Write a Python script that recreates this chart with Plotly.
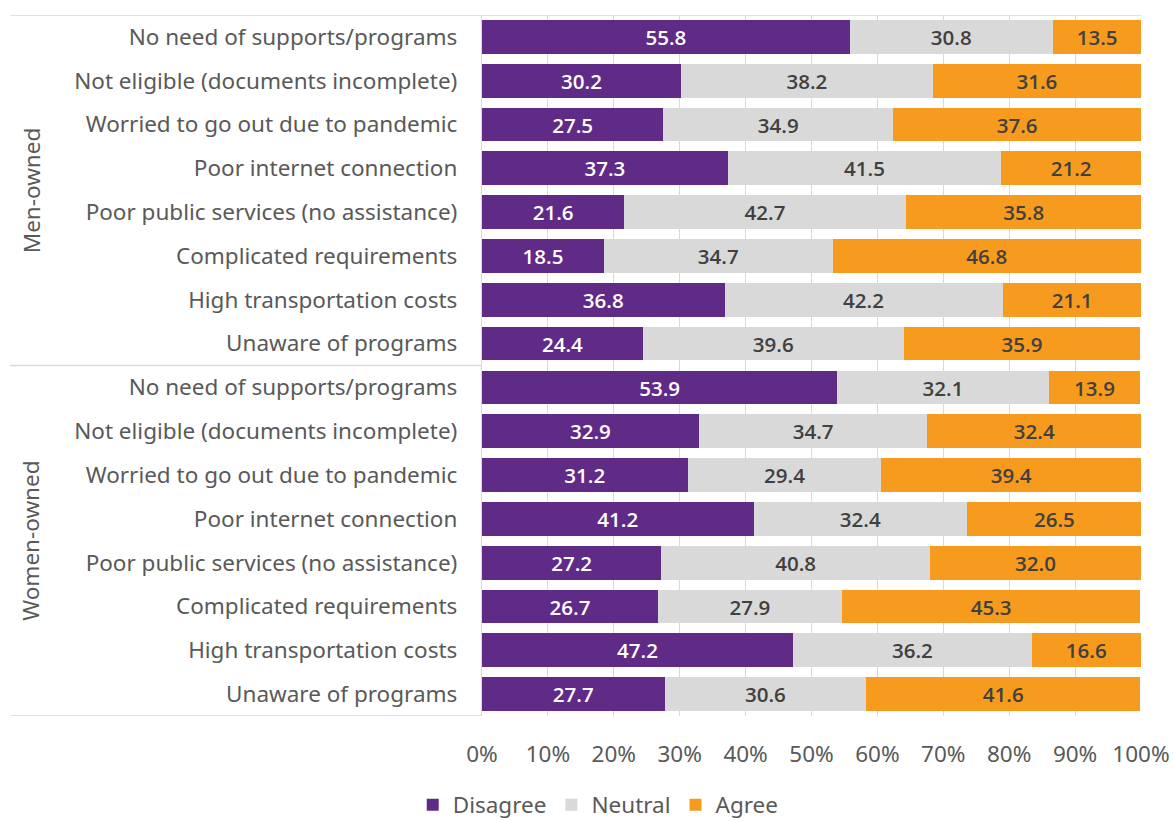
import plotly.graph_objects as go

groups = ["Men-owned", "Women-owned"]
reasons = [
    "No need of supports/programs",
    "Not eligible (documents incomplete)",
    "Worried to go out due to pandemic",
    "Poor internet connection",
    "Poor public services (no assistance)",
    "Complicated requirements",
    "High transportation costs",
    "Unaware of programs",
]
disagree_men = [55.8, 30.2, 27.5, 37.3, 21.6, 18.5, 36.8, 24.4]
neutral_men = [30.8, 38.2, 34.9, 41.5, 42.7, 34.7, 42.2, 39.6]
agree_men = [13.5, 31.6, 37.6, 21.2, 35.8, 46.8, 21.1, 35.9]
disagree_women = [53.9, 32.9, 31.2, 41.2, 27.2, 26.7, 47.2, 27.7]
neutral_women = [32.1, 34.7, 29.4, 32.4, 40.8, 27.9, 36.2, 30.6]
agree_women = [13.9, 32.4, 39.4, 26.5, 32.0, 45.3, 16.6, 41.6]
x_ticks = list(range(0, 101, 10))
x_tick_labels = [f"{v}%" for v in x_ticks]

labels = reasons + reasons
ypos = list(range(len(labels)))
series = [
    ("Disagree", disagree_men + disagree_women, "#5F2B87", "white"),
    ("Neutral", neutral_men + neutral_women, "#D9D9D9", "#404040"),
    ("Agree", agree_men + agree_women, "#F79B1E", "#404040"),
]

FONT = "Noto Sans"
FS = 22.5
W, H = 1173, 821
L, R, T, B = 482, 32, 15, 105
fig = go.Figure()
for name, vals, color, tcol in series:
    fig.add_trace(go.Bar(
        name=name, x=vals, y=ypos, orientation="h",
        marker=dict(color=color, line=dict(width=0)),
        text=vals, texttemplate="%{x:.1f}", textposition="inside",
        insidetextanchor="middle", textangle=0,
        textfont=dict(color=tcol, size=21.5, family="Open Sans", weight=600),
        hoverinfo="x+name",
    ))

n = len(reasons)
grid = "#D9D9D9"
pw, ph = W - L - R, H - T - B
fig.update_layout(
    barmode="stack", bargap=0.23,
    width=W, height=H,
    margin=dict(l=L, r=R, t=T, b=B, autoexpand=False),
    paper_bgcolor="white", plot_bgcolor="white",
    font=dict(family=FONT, size=FS, color="#595959"),
    xaxis=dict(range=[0, 100], tickvals=x_ticks, ticktext=x_tick_labels,
               showgrid=True, gridcolor=grid, gridwidth=1.3, zeroline=False,
               showline=False, ticks="", ticklabelstandoff=22, automargin=False,
               tickfont=dict(size=FS, color="#595959")),
    yaxis=dict(tickvals=ypos, ticktext=labels, range=[len(labels) - 0.5, -0.5],
               showgrid=False, zeroline=False, showline=True, linecolor=grid,
               linewidth=1.3, ticks="", ticklabelstandoff=19, automargin=False,
               tickfont=dict(size=FS, color="#595959")),
    legend=dict(orientation="h", xref="container", yref="paper",
                x=0.51, y=-(805 - (H - B)) / ph, xanchor="center", yanchor="middle",
                font=dict(size=FS, color="#595959"), traceorder="normal",
                itemwidth=30),
    showlegend=True,
)

left_paper = (10 - L) / pw
line = dict(color=grid, width=1.5)
# top border
fig.add_shape(type="line", xref="paper", yref="y", x0=left_paper, x1=1,
              y0=-0.5, y1=-0.5, line=line)
# group separators
for k in range(1, len(groups) + 1):
    yb = k * n - 0.5
    fig.add_shape(type="line", xref="paper", yref="y", x0=left_paper, x1=0,
                  y0=yb, y1=yb, line=line)

for gi, g in enumerate(groups):
    fig.add_annotation(text=g, xref="paper", yref="y",
                       x=(31 - L) / pw, y=gi * n + (n - 1) / 2,
                       xanchor="center", yanchor="middle",
                       textangle=-90, showarrow=False,
                       font=dict(size=FS, color="#595959", family=FONT))

fig.write_html("out.html", config={"displayModeBar": False},
               post_script="document.body.style.margin='0';")
